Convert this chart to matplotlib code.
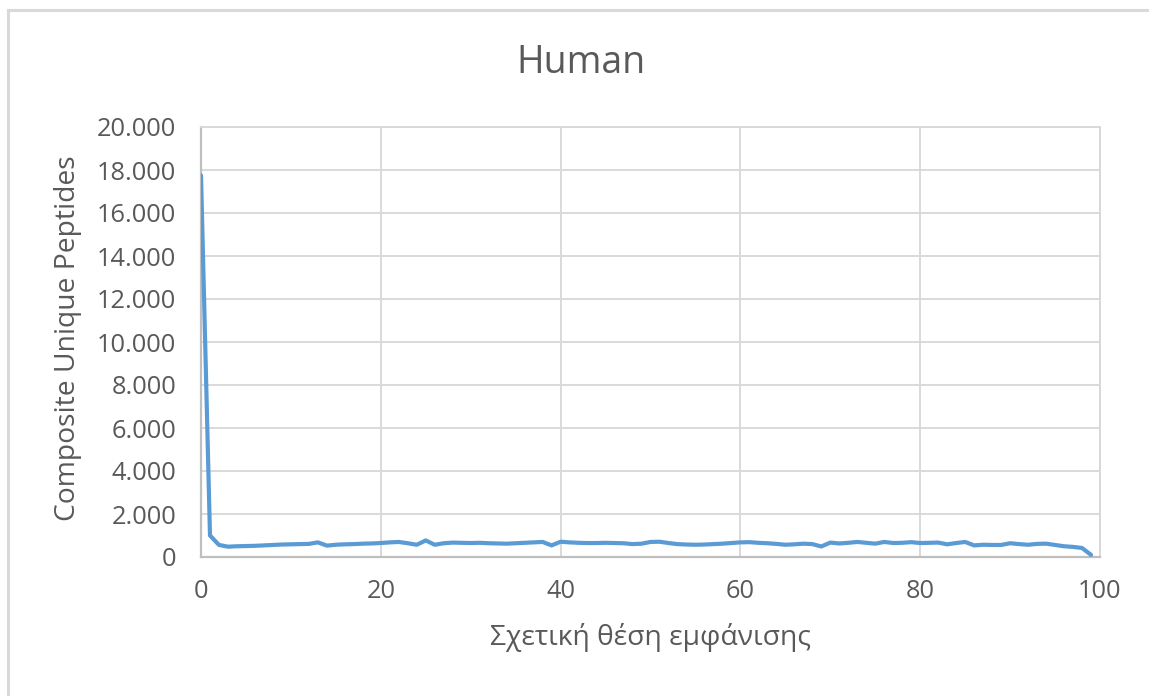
import matplotlib
matplotlib.use("Agg")
import matplotlib.pyplot as plt
from matplotlib.lines import Line2D
from matplotlib.ticker import FuncFormatter, MultipleLocator

# Relative position of appearance (0..99) and composite unique peptide counts
positions = list(range(100))
peptides = [
    17750, 1000, 560, 480, 500, 510, 520, 540, 560, 580,
    590, 600, 610, 680, 530, 570, 590, 600, 620, 630,
    650, 680, 700, 640, 570, 770, 570, 640, 670, 660,
    650, 660, 640, 630, 620, 640, 660, 680, 700, 540,
    710, 680, 660, 650, 650, 660, 650, 640, 600, 620,
    700, 710, 650, 600, 580, 570, 580, 600, 620, 650,
    680, 690, 660, 640, 610, 570, 590, 620, 600, 490,
    670, 630, 660, 700, 660, 620, 700, 650, 660, 690,
    650, 660, 670, 590, 650, 700, 540, 570, 560, 560,
    640, 600, 570, 610, 620, 560, 500, 470, 420, 100,
]

title = "Human"
x_label = "Σχετική θέση εμφάνισης"
y_label = "Composite Unique Peptides"

FONT = ["Open Sans", "DejaVu Sans"]
TEXT_COLOR = "#595959"
LINE_COLOR = "#5B9BD5"
GRID_COLOR = "#D9D9D9"
AXIS_COLOR = "#BFBFBF"

W, H = 1149, 696
fig = plt.figure(figsize=(W / 100, H / 100), dpi=100, facecolor="white")

# plot area in pixel coordinates
left, right, top, bottom = 201, 1100, 127, 557
ax = fig.add_axes([left / W, 1 - bottom / H, (right - left) / W, (bottom - top) / H])

ax.plot(positions, peptides, color=LINE_COLOR, linewidth=3.0,
        solid_joinstyle="round", solid_capstyle="round", zorder=3)

ax.set_xlim(0, 100)
ax.set_ylim(0, 20000)
ax.xaxis.set_major_locator(MultipleLocator(20))
ax.yaxis.set_major_locator(MultipleLocator(2000))


def thousands(v, _):
    return f"{int(round(v)):,}".replace(",", ".")


ax.yaxis.set_major_formatter(FuncFormatter(thousands))

ax.grid(True, color=GRID_COLOR, linewidth=1.4, zorder=0)
ax.set_axisbelow(True)
for side in ("top", "right"):
    ax.spines[side].set_color(GRID_COLOR)
    ax.spines[side].set_linewidth(1.4)
for side in ("left", "bottom"):
    ax.spines[side].set_color(AXIS_COLOR)
    ax.spines[side].set_linewidth(1.6)

ax.tick_params(axis="both", length=0, colors=TEXT_COLOR, labelsize=18.3)
ax.tick_params(axis="y", pad=18)
ax.tick_params(axis="x", pad=16)
for lab in ax.get_xticklabels() + ax.get_yticklabels():
    lab.set_fontfamily(FONT)

fig.text(581 / W, 1 - 63 / H, title, ha="center", va="center",
         fontsize=27, color=TEXT_COLOR, family=FONT)
fig.text(650 / W, 1 - 638 / H, x_label, ha="center", va="center",
         fontsize=20.3, color=TEXT_COLOR, family=FONT)
fig.text(68 / W, 1 - 338 / H, y_label, ha="center", va="center",
         rotation=90, fontsize=20.3, color=TEXT_COLOR, family=FONT)

# chart area frame (top and left edges)
fig.add_artist(Line2D([7.5 / W, 7.5 / W], [0, 1 - 9.5 / H], color=GRID_COLOR,
                      linewidth=2.2, transform=fig.transFigure))
fig.add_artist(Line2D([7.5 / W, 1], [1 - 9.5 / H, 1 - 9.5 / H], color=GRID_COLOR,
                      linewidth=2.2, transform=fig.transFigure))

fig.savefig("out.png", dpi=100, facecolor="white")
